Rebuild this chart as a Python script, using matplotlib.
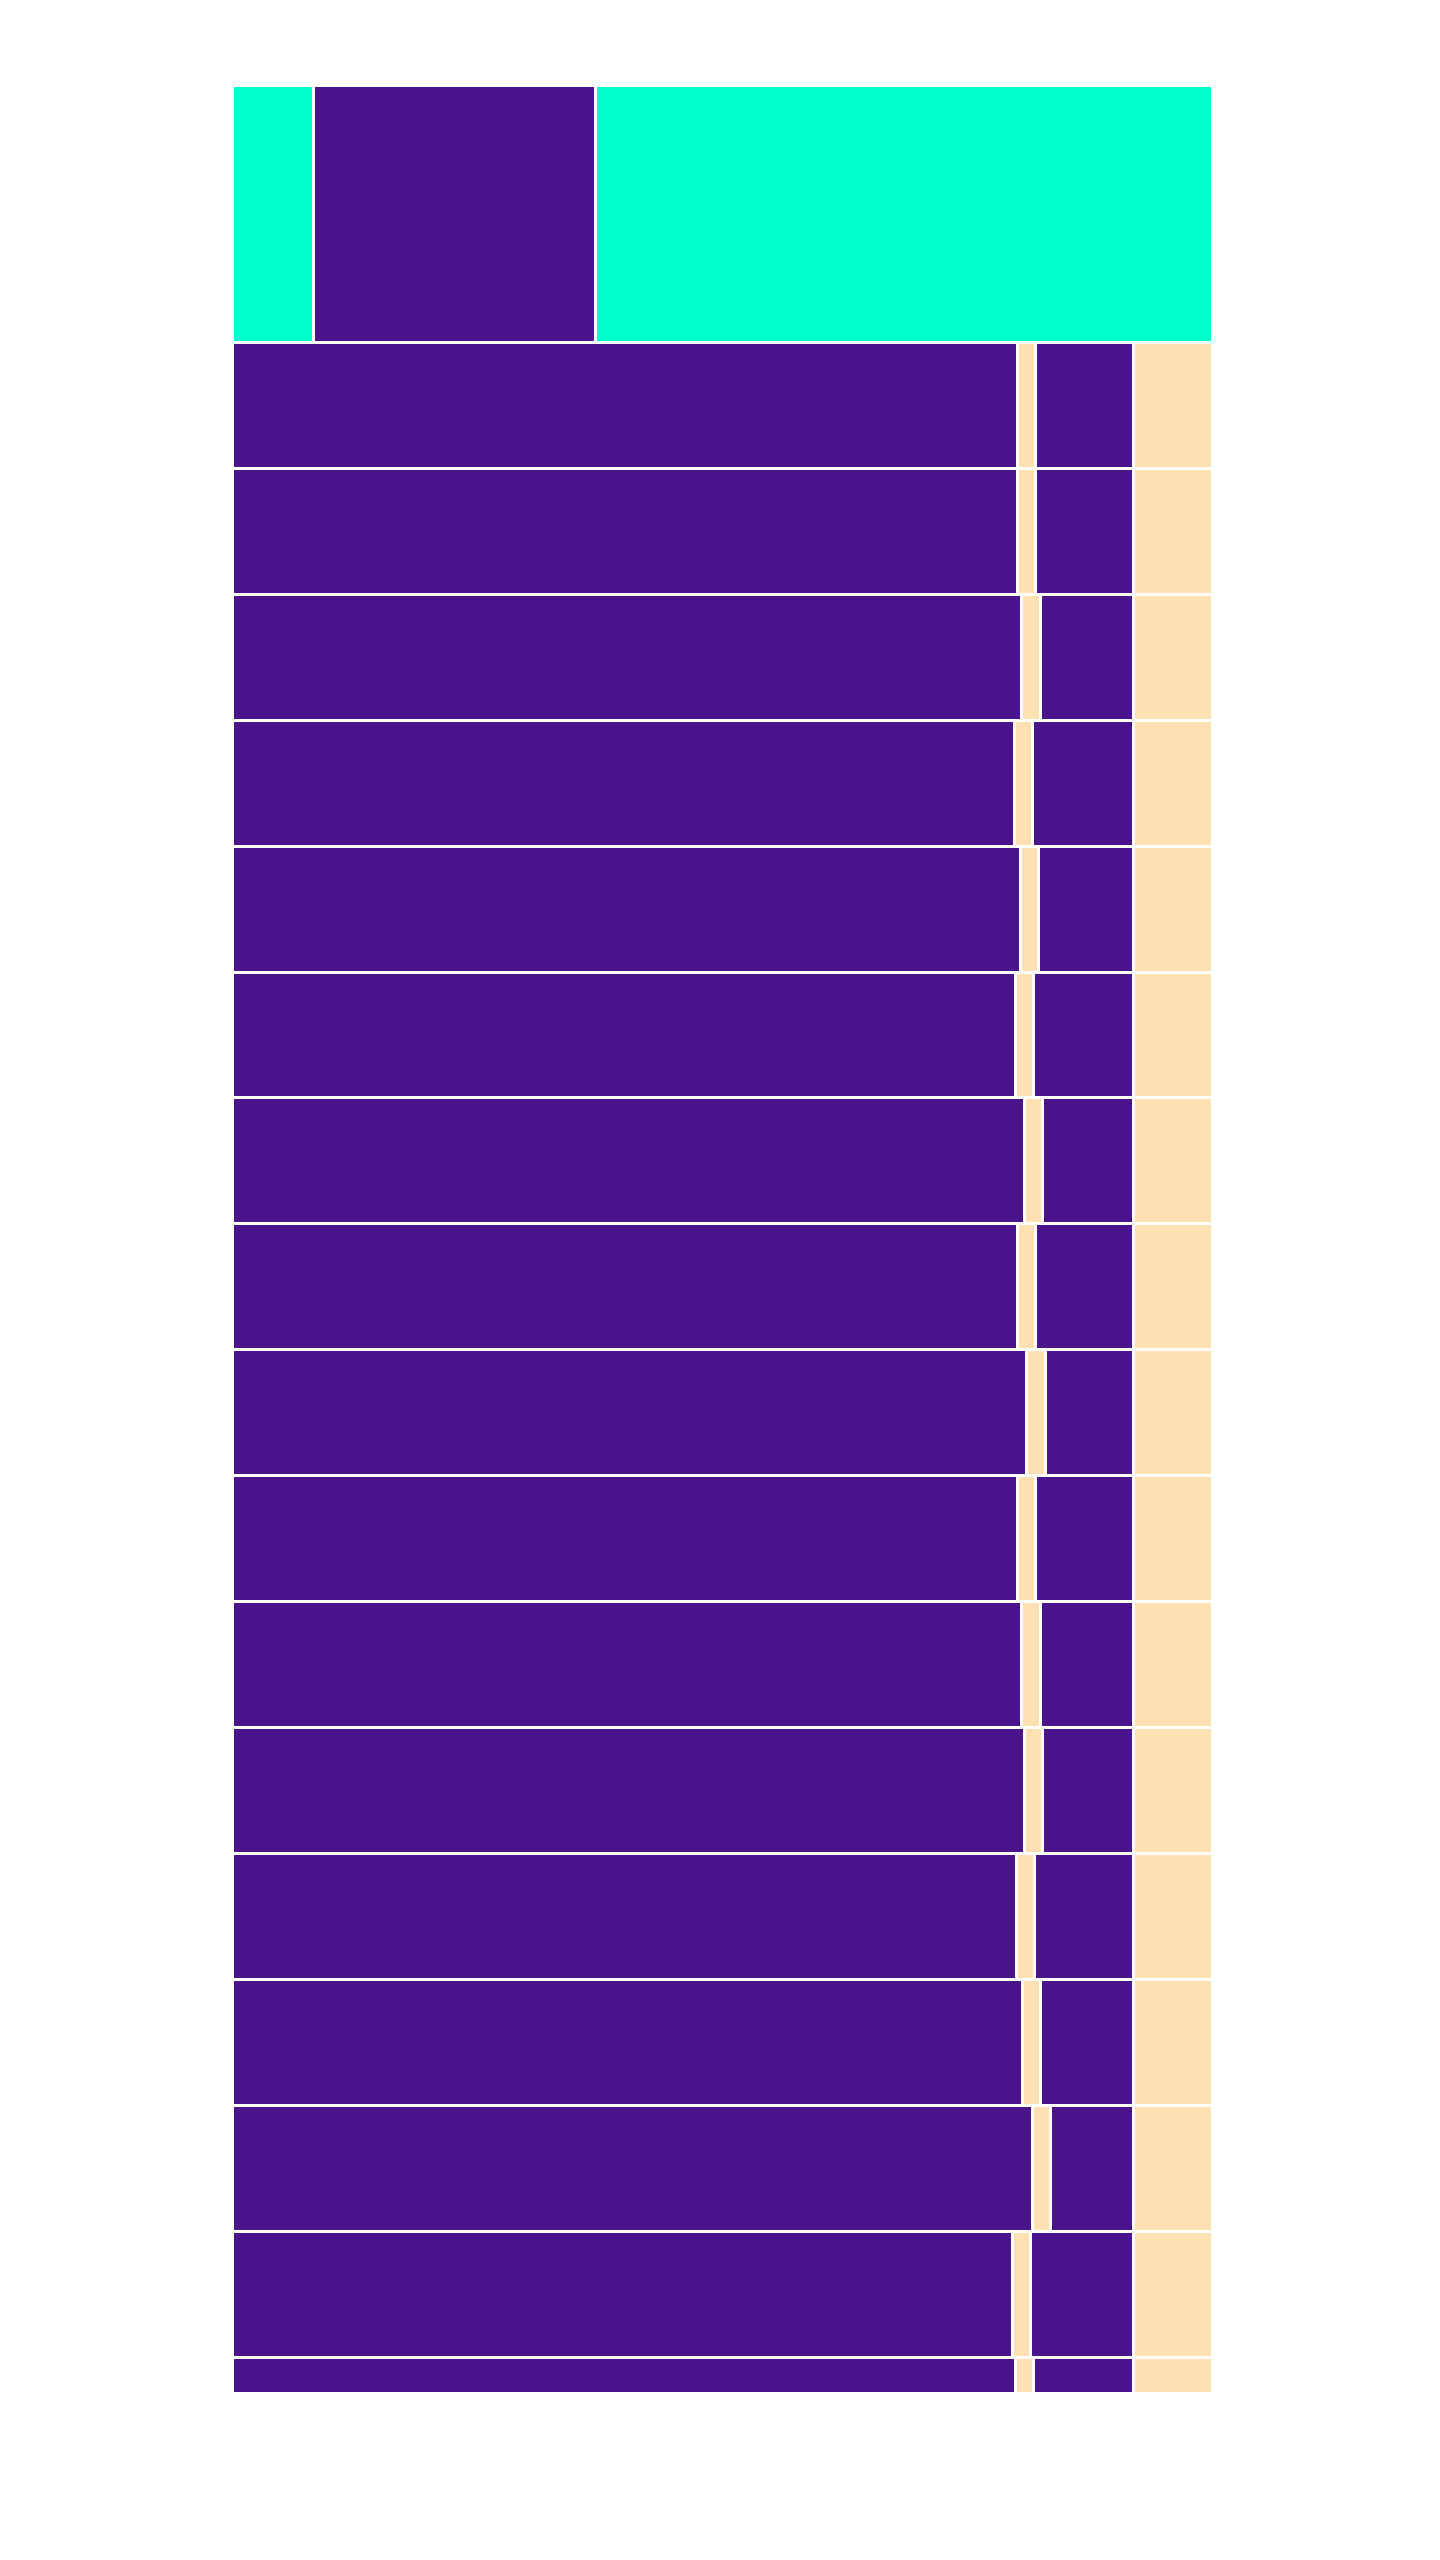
import numpy as np
from matplotlib import pyplot as plt

# Row weights (first row is the tall header row, last row is cut short)
row_heights = [2.032] + [1.0] * 16 + [0.286]

# Header row: three segments (percent of row width)
header_widths = [8.27, 28.78, 62.96]
header_colors = ["#00FFCF", "#4A148C", "#00FFCF"]

# Body rows: first purple block (percent), then fixed small / last blocks
first_block = [80.20, 80.20, 80.61, 79.80, 80.41, 79.90, 80.82, 80.20, 81.12,
               80.20, 80.61, 80.82, 80.00, 80.71, 81.73, 79.69, 79.90]
small_block = 1.84
last_block = 8.06
body_colors = ["#4A148C", "#FFE0B2", "#4A148C", "#FFE0B2"]

fig = plt.figure(figsize=(14.4, 25.6), dpi=100)
ax = fig.add_axes([231.5 / 1440, 0.06504, 980 / 1440, 2308 / 2560])

edge_kw = dict(edgecolor="white", linewidth=2.16)

tops = np.concatenate([[0], np.cumsum(row_heights)[:-1]])
centers = tops + np.array(row_heights) / 2

# header row
left = 0
for w, c in zip(header_widths, header_colors):
    ax.barh(centers[0], w, height=row_heights[0], left=left, color=c, **edge_kw)
    left += w

# body rows
for i, a in enumerate(first_block):
    widths = [a, small_block, 100 - a - small_block - last_block, last_block]
    left = 0
    for w, c in zip(widths, body_colors):
        ax.barh(centers[i + 1], w, height=row_heights[i + 1], left=left, color=c, **edge_kw)
        left += w

ax.set_xlim(0, 100)
ax.set_ylim(sum(row_heights), 0)
ax.axis("off")

fig.savefig("out.png", dpi=100)
